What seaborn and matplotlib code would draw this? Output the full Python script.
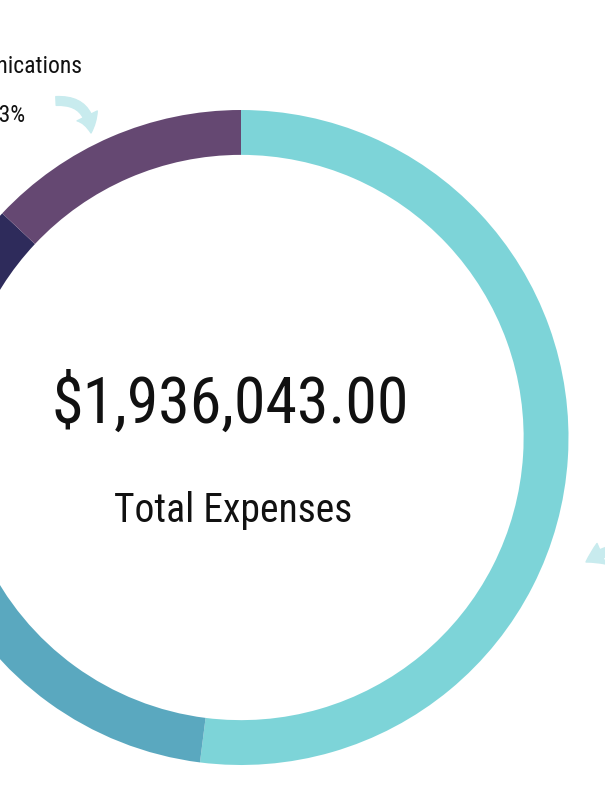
import matplotlib
matplotlib.use("Agg")
import matplotlib.pyplot as plt
import seaborn as sns

# donut data (percent of total expenses), clockwise from 12 o'clock
categories = ["Programs", "Operations", "Fundraising", "Administration", "Communications"]
shares = [52, 16, 7, 12, 13]
seg_colors = ["#7dd4d8", "#5aa8bf", "#3f7ea6", "#2e2b5b", "#654872"]
total_label = "$1,936,043.00"
center_label = "Total Expenses"
callout_name = "Communications"
callout_pct = "13%"

sns.set_theme(style="white")
fam = ["Roboto Condensed", "Liberation Sans Narrow", "DejaVu Sans"]
plt.rcParams["font.family"] = fam

W, H = 605, 806
fig = plt.figure(figsize=(W / 100, H / 100), dpi=100)
fig.patch.set_facecolor("white")

# ring: centre (241, 437.5) px, outer radius 327.5 px
cx, cy, r = 241, 437.5, 327.5
ax = fig.add_axes([(cx - r) / W, (H - cy - r) / H, 2 * r / W, 2 * r / H])
palette = sns.color_palette(seg_colors)
ax.pie(shares, colors=palette, startangle=90, counterclock=False, radius=1,
       wedgeprops=dict(width=0.137, linewidth=0))
ax.set_xlim(-1, 1)
ax.set_ylim(-1, 1)
ax.set_aspect("equal")
ax.axis("off")


def fy(y):
    return H - y


fig.text(230 / W, fy(423) / H, total_label, ha="center", va="baseline",
         fontsize=46, fontstretch="condensed", color="#111111")
fig.text(233 / W, fy(522) / H, center_label, ha="center", va="baseline",
         fontsize=28.5, fontstretch="condensed", color="#111111")

# callout label (partly beyond the left edge, as in the original)
fig.text(4 / W, fy(73) / H, callout_name, ha="center", va="baseline",
         fontsize=17, fontstretch="condensed", color="#111111")
fig.text(6 / W, fy(122) / H, callout_pct, ha="center", va="baseline",
         fontsize=17, fontstretch="condensed", color="#111111")

arrow_col = "#c8ebee"
style = "simple,head_length=0.7,head_width=0.9,tail_width=0.35"
plt.annotate("", xy=(91, fy(133)), xytext=(56, fy(101)),
             xycoords="figure pixels", textcoords="figure pixels",
             arrowprops=dict(arrowstyle=style, mutation_scale=18, color=arrow_col,
                             connectionstyle="arc3,rad=-0.5", shrinkA=0, shrinkB=0),
             annotation_clip=False)
plt.annotate("", xy=(586, fy(562)), xytext=(660, fy(548)),
             xycoords="figure pixels", textcoords="figure pixels",
             arrowprops=dict(arrowstyle=style, mutation_scale=18, color=arrow_col,
                             connectionstyle="arc3,rad=0.2", shrinkA=0, shrinkB=0),
             annotation_clip=False)

fig.savefig("out.png", dpi=100, facecolor="white")
